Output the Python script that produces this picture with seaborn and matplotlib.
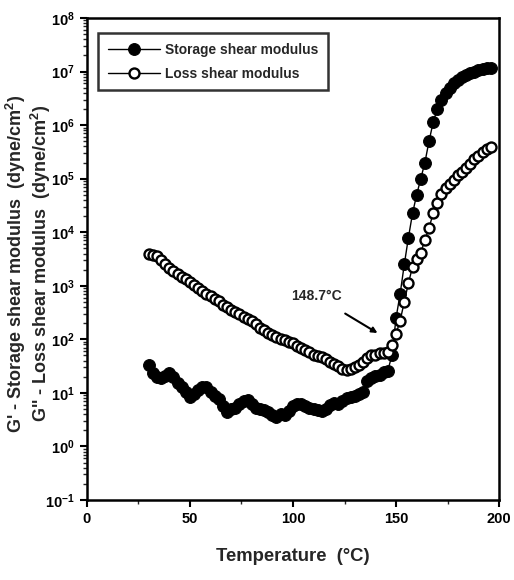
import math
import pandas as pd
import seaborn as sns
import matplotlib.pyplot as plt
from matplotlib.ticker import LogLocator, MultipleLocator, FuncFormatter, NullFormatter

# Temperature sweep (deg C)
temperature = [30, 32, 34, 36, 38, 40, 42, 44, 46, 48,
               50, 52, 54, 56, 58, 60, 62, 64, 66, 68,
               70, 72, 74, 76, 78, 80, 82, 84, 86, 88,
               90, 92, 94, 96, 98, 100, 102, 104, 106, 108,
               110, 112, 114, 116, 118, 120, 122, 124, 126, 128,
               130, 132, 134, 136, 138, 140, 142, 144, 146, 148,
               150, 152, 154, 156, 158, 160, 162, 164, 166, 168,
               170, 172, 174, 176, 178, 180, 182, 184, 186, 188,
               190, 192, 194, 196]

# G' - storage shear modulus (dyne/cm2)
storage_modulus = [33, 23, 20, 19, 21, 23, 20, 15, 13, 10.5,
                   8.3, 9.5, 11.2, 12.6, 12.9, 10.5, 8.9, 7.6, 5.6, 4.4,
                   5.0, 5.2, 6.3, 7.1, 7.4, 6.3, 5.2, 5.0, 4.8, 4.3,
                   3.8, 3.5, 4.0, 3.8, 4.6, 5.6, 6.3, 6.3, 5.8, 5.2,
                   5.0, 4.8, 4.6, 5.0, 6.0, 6.6, 6.3, 7.1, 7.9, 8.3,
                   8.9, 9.5, 10.5, 16.6, 19, 21, 22, 24, 26, 50,
                   250, 710, 2500, 7900, 22400, 50000, 100000, 200000, 500000, 1120000,
                   2000000, 3000000, 4000000, 5000000, 6000000, 6900000, 7900000, 8700000, 9300000, 10000000,
                   10500000, 11000000, 11500000, 11700000]

# G'' - loss shear modulus (dyne/cm2)
loss_modulus = [4000, 3800, 3550, 3000, 2500, 2100, 1900, 1660, 1480, 1320,
                1170, 1050, 910, 795, 710, 630, 575, 515, 445, 400,
                355, 325, 295, 265, 235, 215, 190, 165, 150, 132,
                120, 110, 100, 95, 89, 85, 76, 69, 63, 58,
                52, 48, 46, 42, 38, 35, 32, 28, 27, 28,
                30, 33, 38, 44, 50, 52, 55, 56, 59, 79,
                126, 224, 500, 1120, 2240, 3160, 4170, 7080, 12000, 22400,
                35500, 52500, 66000, 79400, 95500, 115000, 135000, 158000, 190000, 229000,
                269000, 309000, 355000, 398000]

df = pd.DataFrame({'Temperature': temperature,
                   'Storage': storage_modulus,
                   'Loss': loss_modulus})

sns.set_style("ticks")
plt.rcParams['font.family'] = ['Liberation Sans', 'DejaVu Sans']
plt.rcParams['font.weight'] = 'bold'
plt.rcParams['mathtext.fontset'] = 'custom'
plt.rcParams['mathtext.rm'] = 'Liberation Sans:bold'
plt.rcParams['mathtext.bf'] = 'Liberation Sans:bold'
plt.rcParams['mathtext.default'] = 'bf'

fig = plt.figure(figsize=(5.14, 5.80), dpi=100)
ax = fig.add_axes([0.169, 0.138, 0.802, 0.831])

# Storage: filled circles, Loss: open circles
sns.lineplot(data=df, x='Temperature', y='Storage', ax=ax, color='black',
             linewidth=1.0, marker='o', markersize=8.5, markerfacecolor='black',
             markeredgecolor='black', label='Storage shear modulus')
sns.lineplot(data=df, x='Temperature', y='Loss', ax=ax, color='black',
             linewidth=1.0, marker='o', markersize=7.2, markerfacecolor='white',
             markeredgecolor='black', markeredgewidth=1.7, label='Loss shear modulus')

ax.set_yscale('log')
ax.set_xlim(0, 200)
ax.set_ylim(1e-1, 1e8)

ax.xaxis.set_major_locator(MultipleLocator(50))
ax.xaxis.set_minor_locator(MultipleLocator(25))
ax.yaxis.set_major_locator(LogLocator(base=10, numticks=20))
ax.yaxis.set_minor_locator(LogLocator(base=10, subs=range(2, 10), numticks=20))
ax.yaxis.set_minor_formatter(NullFormatter())
ax.yaxis.set_major_formatter(FuncFormatter(lambda v, p: r'$10^{%d}$' % round(math.log10(v))))

ax.tick_params(axis='both', which='major', direction='out', length=5, width=1.5,
               labelsize=10.5, colors='black', top=False, right=False)
ax.tick_params(axis='both', which='minor', direction='out', length=3, width=1.0,
               top=False, right=False)
for lab in ax.get_xticklabels():
    lab.set_fontweight('bold')

for side in ['left', 'right', 'top', 'bottom']:
    ax.spines[side].set_linewidth(1.8)
    ax.spines[side].set_color('black')

ax.set_xlabel('Temperature  (°C)', fontsize=13.3, fontweight='bold', labelpad=16)
ax.set_ylabel("G' - Storage shear modulus  (dyne/cm$^2$)\nG'' - Loss shear modulus  (dyne/cm$^2$)",
              fontsize=13, fontweight='bold', linespacing=1.05)
ax.yaxis.set_label_coords(-0.083, 0.49)

leg = ax.legend(loc='upper left', bbox_to_anchor=(0.027, 0.969), borderaxespad=0,
                frameon=True, fancybox=False, edgecolor='black', fontsize=9.9,
                handlelength=3.8, handletextpad=0.4, borderpad=0.7, labelspacing=0.75)
leg.get_frame().set_linewidth(1.8)
for t in leg.get_texts():
    t.set_fontweight('bold')

ax.annotate('148.7°C', xy=(141, 131), xytext=(99, 640),
            fontsize=10, fontweight='bold', ha='left', va='center',
            arrowprops=dict(arrowstyle='-|>', color='black', lw=1.5,
                            shrinkA=10, shrinkB=0, mutation_scale=8))

fig.savefig('out.png', dpi=100)
